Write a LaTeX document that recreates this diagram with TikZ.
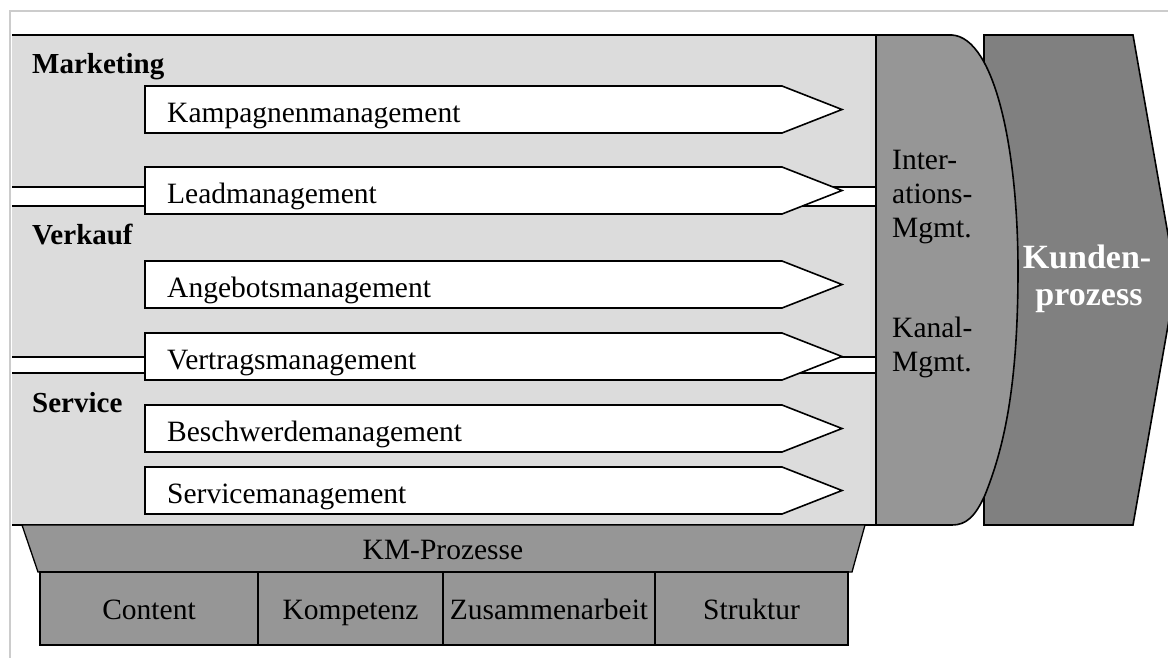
\documentclass[tikz,border=0pt]{standalone}
\usepackage{fontspec}
\setmainfont{Liberation Serif}
\definecolor{framegray}{gray}{0.80}
\definecolor{panelgray}{gray}{0.863}
\definecolor{midgray}{gray}{0.59}
\definecolor{deepgray}{gray}{0.50}
\tikzset{
  edge/.style={line width=1.6pt, line join=miter},
  procarrow/.style={edge, draw=black, fill=white},
  txt/.style={inner sep=0pt, font=\fontsize{29.5}{34}\selectfont},
  lbl/.style={txt, anchor=base west},
  sect/.style={inner sep=0pt, anchor=base west, font=\bfseries\fontsize{29}{34}\selectfont},
  kmtxt/.style={txt, anchor=base},
  kundtxt/.style={inner sep=0pt, anchor=base, text=white, font=\bfseries\fontsize{34}{38}\selectfont},
  kmbox/.style={edge, line width=1.3pt, draw=black, fill=midgray}
}
\begin{document}
\begin{tikzpicture}[x=1pt,y=-1pt]
\useasboundingbox (0,0) rectangle (1168,657);
\clip (0,0) rectangle (1168,657);

% outer frame
\draw[framegray, line width=2pt] (10,670) -- (10,11) -- (1180,11);

% process panel
\fill[panelgray] (12,35) rectangle (876,525);

% interface bands
\fill[white] (12,187) rectangle (876,206);
\draw[edge] (12,187) -- (876,187) (12,206) -- (876,206);
\fill[white] (12,357) rectangle (876,373);
\draw[edge] (12,357) -- (876,357) (12,373) -- (876,373);

% process arrows
\foreach \t/\txt/\n in {86/Kampagnenmanagement/kamp, 167/Leadmanagement/lead,
  261/Angebotsmanagement/angb, 333/Vertragsmanagement/vert,
  405/Beschwerdemanagement/besch, 467/Servicemanagement/serv} {
  \draw[procarrow] (145,\t) -- (782,\t) -- (842,\t+23.5) -- (782,\t+47) -- (145,\t+47) -- cycle;
  \node[lbl] (\n) at (167,\t+36) {\txt};
}

\draw[edge] (12,35) -- (876,35);
\draw[edge] (12,525) -- (876,525);

% section headings
\node[sect] (mkt) at (32,73) {Marketing};
\node[sect] (vk) at (32,244) {Verkauf};
\node[sect] (svc) at (32,412) {Service};

% customer process (behind the interaction shape)
\draw[edge, fill=deepgray] (984,35) -- (1133,35) -- (1176,280) -- (1133,525) -- (984,525) -- cycle;
\node[kundtxt] (kp1) at (1087,268) {Kunden-};
\node[kundtxt] (kp2) at (1089,305) {prozess};

% interaction / channel management
\draw[edge, fill=midgray] (876,35) -- (952,35)
  .. controls (995,38) and (1018,150) .. (1018,270)
  .. controls (1018,390) and (1003,450) .. (985,495)
  .. controls (975,517) and (966,525) .. (952,525)
  -- (876,525) -- cycle;
\node[lbl] (ia1) at (892,169) {Inter-};
\node[lbl] (ia2) at (892,203) {ations-};
\node[lbl] (ia3) at (892,237) {Mgmt.};
\node[lbl] (ka1) at (892,337) {Kanal-};
\node[lbl] (ka2) at (892,371) {Mgmt.};

% knowledge management base
\draw[kmbox] (22,525) -- (865,525) -- (852,572) -- (38,572) -- cycle;
\node[kmtxt] (km) at (443,559) {KM-Prozesse};
\draw[kmbox] (40,572) rectangle (258,645);
\draw[kmbox] (258,572) rectangle (443,645);
\draw[kmbox] (443,572) rectangle (655,645);
\draw[kmbox] (655,572) rectangle (848,645);
\node[kmtxt] (c1) at (149,619) {Content};
\node[kmtxt] (c2) at (350.5,619) {Kompetenz};
\node[kmtxt] (c3) at (549,619) {Zusammenarbeit};
\node[kmtxt] (c4) at (751.5,619) {Struktur};
\end{tikzpicture}
\end{document}
